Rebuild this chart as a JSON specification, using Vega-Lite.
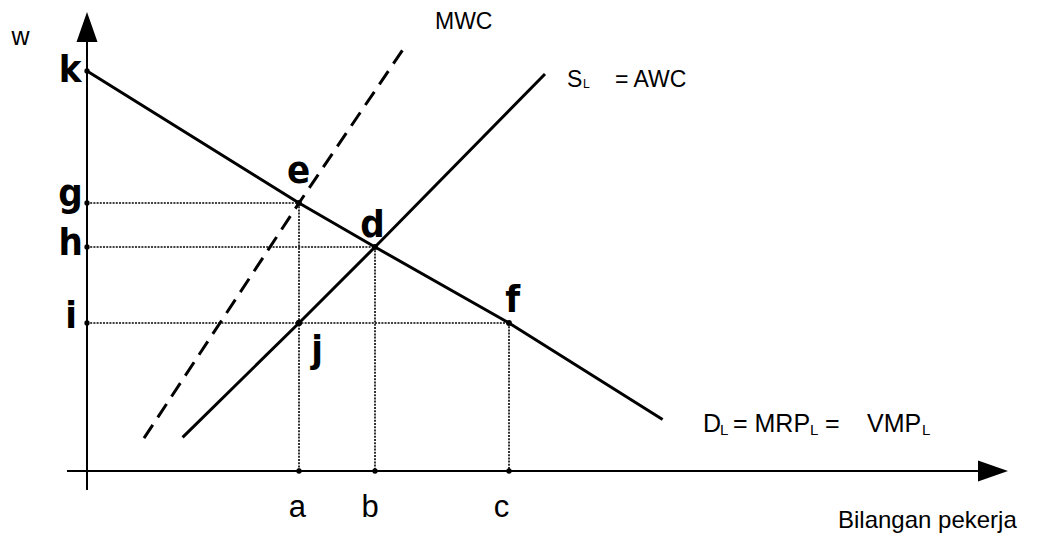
{
  "$schema": "https://vega.github.io/schema/vega-lite/v6.json",
  "width": 1042,
  "height": 536,
  "padding": 0,
  "autosize": {"type": "none"},
  "background": "white",
  "config": {"view": {"stroke": null}},
  "datasets": {
    "curves": [
      {"series": "D", "x": 0, "y": 100},
      {"series": "D", "x": 53, "y": 67},
      {"series": "D", "x": 72, "y": 56},
      {"series": "D", "x": 105.5, "y": 37},
      {"series": "D", "x": 143.9, "y": 12.9},
      {"series": "S", "x": 23.9, "y": 8.4},
      {"series": "S", "x": 53, "y": 37},
      {"series": "S", "x": 72, "y": 56},
      {"series": "S", "x": 114.5, "y": 99.25},
      {"series": "MWC", "x": 14.25, "y": 8.2},
      {"series": "MWC", "x": 53, "y": 67},
      {"series": "MWC", "x": 79.75, "y": 106.5}
    ],
    "guides": [
      {"x": 0, "y": 67, "x2": 53, "y2": 67},
      {"x": 53, "y": 67, "x2": 53, "y2": 0},
      {"x": 0, "y": 56, "x2": 72, "y2": 56},
      {"x": 72, "y": 56, "x2": 72, "y2": 0},
      {"x": 0, "y": 37, "x2": 105.5, "y2": 37},
      {"x": 105.5, "y": 37, "x2": 105.5, "y2": 0}
    ],
    "axes": [
      {"x": 0, "y": -4.75, "x2": 0, "y2": 108},
      {"x": -5, "y": 0, "x2": 223.5, "y2": 0}
    ],
    "arrows": [
      {"dir": "up", "x": 0, "y": 111},
      {"dir": "right", "x": 226.5, "y": 0}
    ],
    "dots": [
      {"kind": "axis", "x": 0, "y": 100},
      {"kind": "axis", "x": 0, "y": 67},
      {"kind": "axis", "x": 0, "y": 56},
      {"kind": "axis", "x": 0, "y": 37},
      {"kind": "axis", "x": 53, "y": 0},
      {"kind": "axis", "x": 72, "y": 0},
      {"kind": "axis", "x": 105.5, "y": 0},
      {"kind": "curve", "x": 53, "y": 67},
      {"kind": "curve", "x": 72, "y": 56},
      {"kind": "curve", "x": 105.5, "y": 37},
      {"kind": "big", "x": 53, "y": 37}
    ],
    "labels": [
      {"role": "letter", "text": "k", "x": -4.25, "y": 97.25},
      {"role": "letter", "text": "g", "x": -4.1, "y": 66.25},
      {"role": "letter", "text": "h", "x": -4.1, "y": 54},
      {"role": "letter", "text": "i", "x": -4, "y": 35.75},
      {"role": "letter", "text": "e", "x": 52.9, "y": 72},
      {"role": "letter", "text": "d", "x": 71.4, "y": 58.5},
      {"role": "letter", "text": "f", "x": 106.4, "y": 39.75},
      {"role": "letter", "text": "j", "x": 57.5, "y": 27.25},
      {"role": "tick", "text": "a", "x": 52.6, "y": -11.5},
      {"role": "tick", "text": "b", "x": 70.75, "y": -11.5},
      {"role": "tick", "text": "c", "x": 103.6, "y": -11.5},
      {"role": "axis", "text": "w", "x": -16.6, "y": 106.5},
      {"role": "axisleft", "text": "Bilangan pekerja", "x": 187.75, "y": -14.25},
      {"role": "main", "text": "MWC", "x": 87, "y": 110.5},
      {"role": "main", "text": "S", "x": 120, "y": 96},
      {"role": "main", "text": "= AWC", "x": 132, "y": 96},
      {"role": "mainD", "text": "D", "x": 154, "y": 9.75},
      {"role": "mainD", "text": "= MRP", "x": 161.5, "y": 9.75},
      {"role": "mainD", "text": "=", "x": 184.5, "y": 9.75},
      {"role": "mainD", "text": "VMP", "x": 195, "y": 9.75},
      {"role": "sub", "text": "L", "x": 124, "y": 95.75},
      {"role": "subD", "text": "L", "x": 158.25, "y": 9},
      {"role": "subD", "text": "L", "x": 180.75, "y": 9},
      {"role": "subD", "text": "L", "x": 208.75, "y": 9}
    ]
  },
  "encoding": {
    "x": {"field": "x", "type": "quantitative", "axis": null, "scale": {"domain": [-21.75, 238.75], "nice": false, "zero": false}},
    "y": {"field": "y", "type": "quantitative", "axis": null, "scale": {"domain": [-16.25, 117.75], "nice": false, "zero": false}}
  },
  "layer": [
    {
      "data": {"name": "guides"},
      "mark": {"type": "rule", "color": "black", "strokeWidth": 1.6, "strokeDash": [2, 1.2]},
      "encoding": {"x2": {"field": "x2"}, "y2": {"field": "y2"}}
    },
    {
      "data": {"name": "axes"},
      "mark": {"type": "rule", "color": "black", "strokeWidth": 2},
      "encoding": {"x2": {"field": "x2"}, "y2": {"field": "y2"}}
    },
    {
      "data": {"name": "arrows"},
      "transform": [{"filter": "datum.dir === 'up'"}],
      "mark": {"type": "point", "filled": true, "color": "black", "opacity": 1, "size": 900, "shape": "M0,-1L0.7,1L-0.7,1Z", "strokeWidth": 0}
    },
    {
      "data": {"name": "arrows"},
      "transform": [{"filter": "datum.dir === 'right'"}],
      "mark": {"type": "point", "filled": true, "color": "black", "opacity": 1, "size": 900, "shape": "M1,0L-1,-0.7L-1,0.7Z", "strokeWidth": 0}
    },
    {
      "data": {"name": "curves"},
      "transform": [{"filter": "datum.series === 'D'"}],
      "mark": {"type": "line", "color": "black", "strokeWidth": 3}
    },
    {
      "data": {"name": "curves"},
      "transform": [{"filter": "datum.series === 'S'"}],
      "mark": {"type": "line", "color": "black", "strokeWidth": 3}
    },
    {
      "data": {"name": "curves"},
      "transform": [{"filter": "datum.series === 'MWC'"}],
      "mark": {"type": "line", "color": "black", "strokeWidth": 3, "strokeDash": [16, 9], "strokeCap": "butt"}
    },
    {
      "data": {"name": "dots"},
      "mark": {"type": "circle", "color": "black", "opacity": 1},
      "encoding": {
        "size": {"field": "kind", "type": "nominal", "legend": null, "scale": {"domain": ["axis", "curve", "big"], "range": [28, 40, 80]}}
      }
    },
    {
      "data": {"name": "labels"},
      "transform": [{"filter": "datum.role === 'letter'"}],
      "mark": {"type": "text", "font": "Liberation Sans Narrow, DejaVu Sans Condensed, Roboto Condensed, sans-serif", "fontWeight": "bold", "fontSize": 38, "align": "center", "baseline": "alphabetic", "color": "black"},
      "encoding": {"text": {"field": "text"}}
    },
    {
      "data": {"name": "labels"},
      "transform": [{"filter": "datum.role === 'tick'"}],
      "mark": {"type": "text", "font": "Liberation Sans, Arial, sans-serif", "fontSize": 31, "align": "center", "baseline": "alphabetic", "color": "black"},
      "encoding": {"text": {"field": "text"}}
    },
    {
      "data": {"name": "labels"},
      "transform": [{"filter": "datum.role === 'axis'"}],
      "mark": {"type": "text", "font": "Liberation Sans, Arial, sans-serif", "fontSize": 25, "align": "center", "baseline": "alphabetic", "color": "black"},
      "encoding": {"text": {"field": "text"}}
    },
    {
      "data": {"name": "labels"},
      "transform": [{"filter": "datum.role === 'axisleft'"}],
      "mark": {"type": "text", "font": "Liberation Sans, Arial, sans-serif", "fontSize": 24, "align": "left", "baseline": "alphabetic", "color": "black"},
      "encoding": {"text": {"field": "text"}}
    },
    {
      "data": {"name": "labels"},
      "transform": [{"filter": "datum.role === 'main'"}],
      "mark": {"type": "text", "font": "Liberation Sans, Arial, sans-serif", "fontSize": 23, "align": "left", "baseline": "alphabetic", "color": "black"},
      "encoding": {"text": {"field": "text"}}
    },
    {
      "data": {"name": "labels"},
      "transform": [{"filter": "datum.role === 'mainD'"}],
      "mark": {"type": "text", "font": "Liberation Sans, Arial, sans-serif", "fontSize": 25, "align": "left", "baseline": "alphabetic", "color": "black"},
      "encoding": {"text": {"field": "text"}}
    },
    {
      "data": {"name": "labels"},
      "transform": [{"filter": "datum.role === 'sub'"}],
      "mark": {"type": "text", "font": "Liberation Sans, Arial, sans-serif", "fontSize": 12, "align": "left", "baseline": "alphabetic", "color": "black"},
      "encoding": {"text": {"field": "text"}}
    },
    {
      "data": {"name": "labels"},
      "transform": [{"filter": "datum.role === 'subD'"}],
      "mark": {"type": "text", "font": "Liberation Sans, Arial, sans-serif", "fontSize": 15, "align": "left", "baseline": "alphabetic", "color": "black"},
      "encoding": {"text": {"field": "text"}}
    }
  ]
}
